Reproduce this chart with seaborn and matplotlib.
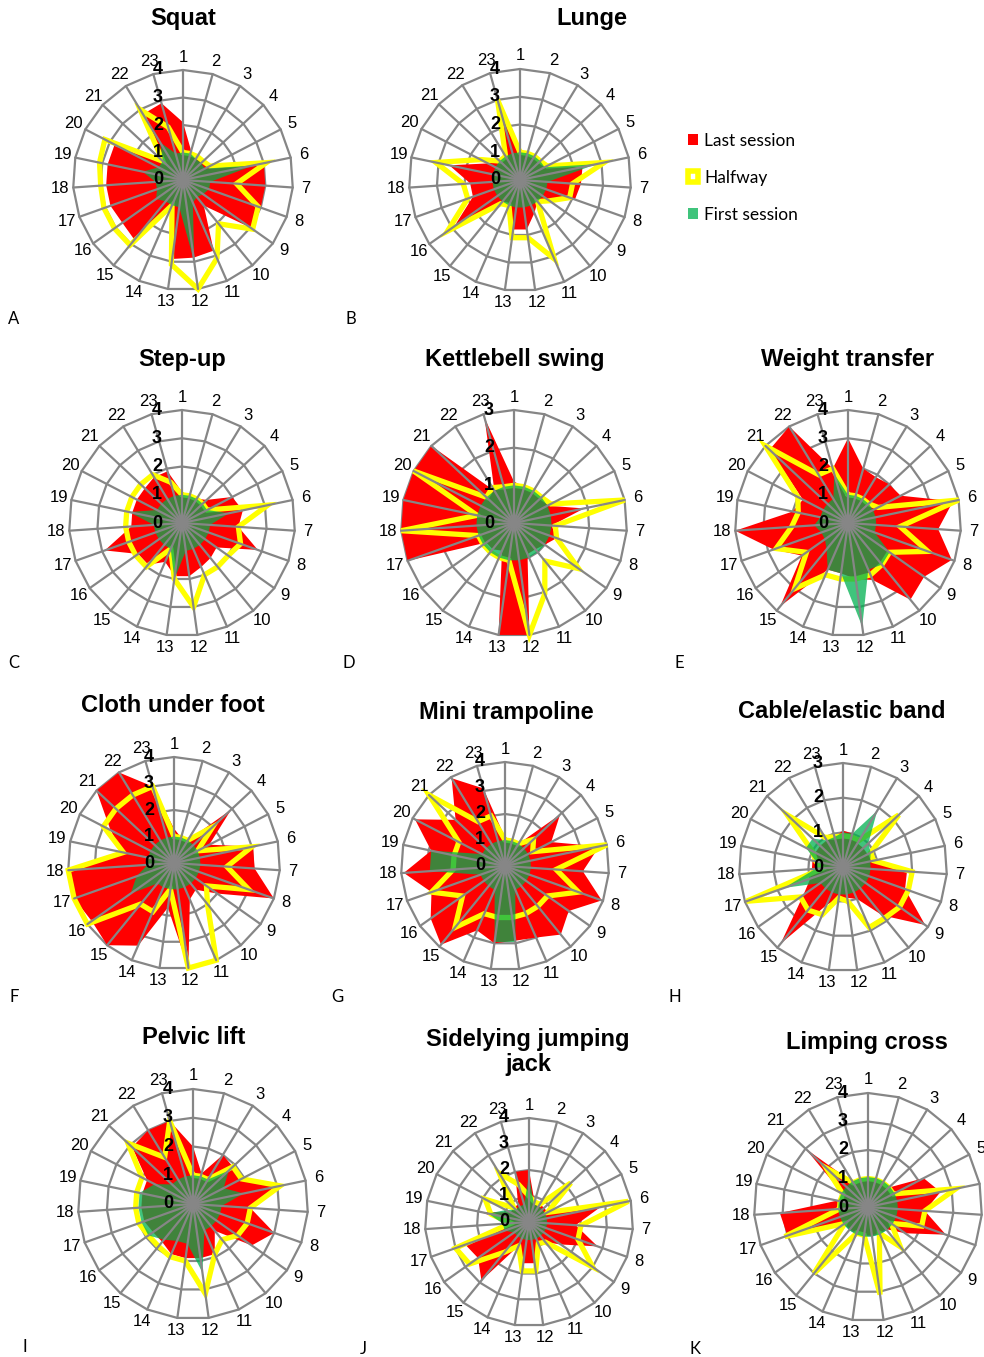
import numpy as np
import matplotlib
matplotlib.use("Agg")
import matplotlib.pyplot as plt
from matplotlib.patches import Patch
from matplotlib.transforms import ScaledTranslation
import seaborn as sns

sns.set_theme(style="white")
plt.rcParams["font.family"] = ["Liberation Sans", "DejaVu Sans"]
plt.rcParams["text.color"] = "black"

spokes = [str(i) for i in range(1, 24)]
series_names = ["Last session", "Halfway", "First session"]

# ---- scores per exercise (23 items, one list per session) ----
squat_last = [2.1, 1.1, 1.0, 1.0, 1.0, 3.0, 3.0, 3.0, 3.0, 1.2, 2.8, 2.85, 2.9, 1.2, 2.8, 2.7, 2.8, 2.8, 2.8, 2.8, 1.1, 2.8, 2.9]
squat_half = [1.0, 1.0, 1.0, 1.0, 1.1, 3.1, 1.95, 2.9, 3.1, 2.05, 3.1, 4.0, 3.1, 1.0, 3.05, 3.05, 3.05, 3.0, 3.1, 3.2, 1.0, 3.0, 2.0]
squat_first = [1.0, 1.0, 0.9, 0.9, 0.9, 2.6, 1.0, 1.0, 0.9, 0.8, 0.9, 3.0, 1.0, 1.0, 1.0, 1.2, 1.0, 1.0, 1.5, 1.0, 1.0, 1.6, 1.0]

lunge_last = [1.1, 1.0, 1.0, 1.0, 1.0, 2.3, 2.2, 2.1, 1.2, 1.0, 1.3, 1.8, 1.8, 1.0, 1.0, 2.9, 1.8, 1.8, 2.6, 1.3, 1.0, 1.0, 2.6]
lunge_half = [1.0, 1.0, 1.0, 1.0, 1.1, 3.1, 1.9, 1.9, 1.3, 1.0, 3.1, 2.1, 2.1, 1.0, 1.1, 3.2, 2.0, 2.05, 3.1, 1.6, 1.0, 1.0, 3.0]
lunge_first = [1.0, 1.0, 1.0, 1.0, 1.0, 2.8, 1.0, 1.0, 1.0, 1.0, 1.0, 1.0, 1.0, 1.0, 1.0, 1.0, 1.0, 1.0, 1.0, 1.0, 1.0, 1.0, 1.0]

stepup_last = [1.1, 1.0, 1.0, 1.2, 2.0, 2.2, 2.0, 2.85, 1.5, 1.6, 1.7, 1.9, 1.9, 1.5, 1.9, 1.9, 2.9, 1.8, 1.8, 1.8, 1.8, 1.9, 1.9]
stepup_half = [1.0, 1.0, 1.0, 1.0, 1.0, 3.1, 2.0, 2.2, 2.0, 2.0, 2.0, 3.0, 2.0, 1.0, 2.0, 2.0, 2.0, 2.0, 2.0, 2.0, 2.0, 2.0, 1.5]
stepup_first = [1.0, 1.0, 1.0, 1.0, 1.0, 1.7, 1.0, 1.0, 1.0, 1.0, 1.0, 1.0, 2.0, 1.0, 1.0, 1.0, 1.0, 1.0, 1.9, 1.0, 1.0, 1.0, 1.0]

kettle_last = [1.1, 1.0, 1.0, 1.0, 1.0, 1.9, 1.0, 1.2, 1.0, 0.9, 0.9, 3.0, 3.0, 0.8, 0.9, 0.9, 3.0, 3.0, 3.0, 3.0, 3.0, 1.0, 2.9]
kettle_half = [1.0, 1.0, 1.0, 1.0, 1.1, 3.0, 1.1, 1.2, 2.1, 1.3, 2.05, 3.0, 1.0, 1.0, 1.0, 1.0, 1.0, 3.0, 1.0, 3.0, 1.0, 1.1, 1.0]
kettle_first = [1.0, 1.0, 1.0, 1.0, 1.0, 1.0, 1.0, 1.0, 1.0, 1.0, 1.0, 1.0, 1.0, 1.0, 1.0, 1.0, 1.0, 1.0, 1.0, 1.0, 1.0, 1.0, 1.0]

weight_last = [3.0, 2.0, 1.9, 2.0, 2.1, 3.8, 3.2, 3.9, 3.3, 3.5, 2.2, 2.0, 1.8, 1.8, 3.8, 2.0, 2.8, 4.0, 2.0, 1.8, 3.8, 4.0, 2.0]
weight_half = [1.0, 1.0, 1.0, 1.0, 1.2, 4.0, 1.85, 3.0, 1.8, 1.9, 2.0, 2.0, 2.0, 2.0, 3.0, 1.8, 2.7, 2.0, 1.8, 2.0, 4.0, 2.0, 2.0]
weight_first = [1.0, 1.0, 1.0, 1.0, 1.0, 1.0, 1.0, 1.0, 1.8, 1.9, 1.8, 3.7, 1.8, 1.8, 1.2, 1.0, 1.0, 1.2, 1.0, 1.0, 1.0, 1.0, 1.8]

cloth_last = [1.3, 1.0, 1.0, 2.95, 1.5, 3.05, 3.05, 4.0, 2.0, 1.3, 1.5, 4.0, 1.7, 3.4, 4.0, 3.8, 4.0, 4.0, 2.0, 2.7, 4.0, 4.0, 3.0]
cloth_half = [1.0, 1.0, 1.0, 2.0, 1.0, 3.0, 2.0, 3.0, 1.5, 2.0, 4.0, 4.0, 1.0, 2.0, 2.0, 4.0, 4.0, 4.0, 1.95, 3.0, 3.0, 3.0, 3.0]
cloth_first = [1.0, 1.0, 1.0, 1.0, 1.0, 1.0, 1.0, 1.0, 1.0, 1.0, 1.0, 1.0, 1.0, 1.0, 1.0, 2.0, 1.5, 1.0, 1.0, 1.0, 1.0, 1.0, 1.0]

tramp_last = [1.1, 1.0, 1.0, 2.9, 2.0, 3.7, 3.0, 3.95, 3.0, 3.4, 3.0, 2.9, 3.0, 2.7, 3.9, 3.5, 3.0, 3.9, 2.9, 3.9, 2.6, 3.95, 3.1]
tramp_half = [1.0, 1.0, 1.0, 1.5, 1.2, 4.0, 1.97, 3.0, 2.0, 2.0, 2.0, 2.0, 2.0, 2.0, 3.05, 2.0, 3.0, 2.0, 2.0, 2.0, 4.0, 2.0, 2.0]
tramp_first = [1.0, 1.0, 1.0, 1.0, 1.0, 1.0, 1.0, 1.0, 1.0, 1.0, 1.0, 2.95, 2.95, 1.0, 1.0, 1.0, 1.0, 2.9, 2.9, 1.0, 1.0, 1.0, 1.0]

cable_last = [1.05, 1.0, 0.8, 0.8, 0.8, 0.9, 1.85, 1.9, 2.9, 1.8, 1.0, 0.9, 0.9, 1.2, 2.85, 1.4, 1.0, 0.9, 0.9, 0.9, 0.9, 0.9, 0.9]
cable_half = [0.9, 0.9, 0.9, 2.2, 0.9, 0.9, 2.0, 2.0, 2.0, 1.9, 1.9, 1.0, 0.9, 1.5, 1.6, 1.5, 2.95, 0.6, 0.8, 1.0, 2.2, 1.0, 0.9]
cable_first = [1.0, 1.0, 1.9, 1.0, 0.9, 0.8, 0.8, 0.8, 0.8, 0.8, 0.8, 0.8, 0.8, 0.8, 0.8, 0.8, 1.8, 0.8, 0.8, 1.2, 1.2, 0.9, 0.9]

pelvic_last = [2.0, 1.1, 2.0, 1.9, 2.0, 2.9, 2.0, 3.0, 2.5, 1.2, 1.9, 1.9, 1.9, 1.9, 1.7, 1.7, 1.8, 1.8, 1.8, 1.8, 2.9, 3.0, 3.0]
pelvic_half = [1.0, 1.0, 1.0, 1.9, 1.9, 3.1, 2.0, 2.0, 1.9, 1.6, 1.9, 3.15, 2.0, 2.0, 1.9, 1.9, 2.0, 2.0, 2.0, 2.0, 3.1, 1.9, 3.0]
pelvic_first = [1.0, 1.0, 1.0, 1.7, 1.2, 1.8, 1.0, 1.0, 1.0, 1.0, 1.0, 2.4, 1.4, 1.4, 1.6, 1.9, 1.9, 1.9, 1.9, 1.5, 1.0, 1.0, 1.0]

jack_last = [2.0, 0.8, 0.8, 0.8, 0.8, 2.8, 1.8, 2.8, 1.5, 1.0, 0.9, 1.6, 1.6, 1.0, 2.9, 2.4, 2.6, 0.7, 1.9, 0.8, 0.8, 0.8, 2.0]
jack_half = [1.0, 0.8, 0.8, 2.2, 0.8, 3.9, 2.0, 2.0, 3.0, 1.0, 0.9, 1.9, 1.9, 1.0, 1.5, 2.8, 3.0, 0.7, 1.5, 1.9, 0.8, 2.2, 1.5]
jack_first = [1.8, 0.7, 0.7, 0.7, 0.7, 0.7, 0.7, 0.7, 0.7, 0.7, 0.7, 0.7, 0.7, 0.7, 0.7, 0.7, 1.0, 1.0, 1.6, 1.0, 0.7, 0.7, 0.7]

limp_last = [1.0, 1.0, 1.0, 1.0, 2.2, 2.6, 2.0, 2.9, 1.6, 1.0, 1.0, 1.0, 1.0, 1.0, 1.0, 1.0, 3.0, 3.1, 1.1, 1.0, 3.0, 1.0, 1.0]
limp_half = [1.0, 1.0, 1.0, 1.0, 1.0, 3.15, 2.0, 2.0, 1.0, 1.8, 1.0, 3.1, 1.0, 1.0, 3.0, 1.0, 3.1, 1.0, 1.0, 1.0, 2.0, 1.0, 1.0]
limp_first = [1.05, 1.05, 1.05, 1.05, 1.05, 1.05, 1.05, 1.05, 1.05, 1.05, 1.05, 1.05, 1.05, 1.05, 1.05, 1.05, 1.05, 1.05, 1.05, 1.05, 1.05, 1.05, 1.05]

# ---- page layout (pixels) ----
W, H = 984, 1357
fig = plt.figure(figsize=(W / 100, H / 100), dpi=100)

RED = "#ff0000"
YELLOW = "#ffff00"
GREEN = "#00b050"
GRID = "#868686"

n = len(spokes)
angles = np.arange(n) * 2 * np.pi / n
ang_closed = np.append(angles, angles[0])


def closed(vals):
    return np.append(np.asarray(vals, float), vals[0])


def radar(cx, cy, rpx, rmax, title, tx, ty, last, half, first, letter, lx, ly):
    ax = fig.add_axes([(cx - rpx) / W, 1 - (cy + rpx) / H, 2 * rpx / W, 2 * rpx / H],
                      projection="polar")
    ax.set_theta_zero_location("N")
    ax.set_theta_direction(-1)
    ax.set_ylim(0, rmax)
    ax.set_axis_off()

    # polygon rings
    for lvl in range(1, rmax + 1):
        ax.plot(ang_closed, np.full(n + 1, lvl), color=GRID, lw=1.6, zorder=1, clip_on=False)

    ax.fill(ang_closed, closed(last), color=RED, lw=0, zorder=2, clip_on=False)
    sns.lineplot(x=ang_closed, y=closed(half), sort=False, estimator=None, ax=ax,
                 color=YELLOW, lw=3.8, zorder=3, clip_on=False, solid_joinstyle="miter")
    ax.fill(ang_closed, closed(first), color=GREEN, alpha=0.75, lw=0, zorder=4, clip_on=False)

    for a in angles:
        ax.plot([a, a], [0, rmax], color=GRID, lw=1.6, zorder=5, clip_on=False)

    ax.set_xlabel("")
    ax.set_ylabel("")

    shift = ax.transData + ScaledTranslation(-25 / 100, 0, fig.dpi_scale_trans)
    for v in range(rmax + 1):
        ax.text(0, v, str(v), transform=shift, ha="center", va="center",
                fontsize=13, fontweight="bold", color="black", zorder=7, clip_on=False)

    for a, s in zip(angles, spokes):
        ax.text(a, rmax * (1 + 13 / rpx), s, ha="center", va="center",
                fontsize=12, color="black", clip_on=False)

    fig.text(tx / W, 1 - ty / H, title, ha="center", va="center", fontsize=17,
             fontweight="bold", linespacing=1.1, color="black")
    fig.text(lx / W, 1 - ly / H, letter, ha="center", va="center", fontsize=12,
             family=["Lato", "DejaVu Sans"], color="black")


radar(183, 180, 110, 4, "Squat", 183, 18, squat_last, squat_half, squat_first, "A", 14, 319)
radar(520, 180, 111, 4, "Lunge", 592, 18, lunge_last, lunge_half, lunge_first, "B", 351, 319)
radar(182, 523, 113, 4, "Step-up", 182, 360, stepup_last, stepup_half, stepup_first, "C", 14, 663)
radar(514, 523, 113, 3, "Kettlebell swing", 515, 360, kettle_last, kettle_half, kettle_first, "D", 349, 663)
radar(848, 523, 113, 4, "Weight transfer", 848, 360, weight_last, weight_half, weight_first, "E", 679, 663)
radar(174, 863, 106, 4, "Cloth under foot", 173, 705, cloth_last, cloth_half, cloth_first, "F", 14, 997)
radar(505, 866, 104, 4, "Mini trampoline", 506, 712, tramp_last, tramp_half, tramp_first, "G", 337, 997)
radar(843, 867, 104, 3, "Cable/elastic band", 842, 712, cable_last, cable_half, cable_first, "H", 675, 997)
radar(193, 1204, 115, 4, "Pelvic lift", 194, 1038, pelvic_last, pelvic_half, pelvic_first, "I", 25, 1347)
radar(529, 1222, 104, 4, "Sidelying jumping\njack", 528, 1052, jack_last, jack_half, jack_first, "J", 363, 1349)
radar(868, 1207, 114, 4, "Limping cross", 867, 1042, limp_last, limp_half, limp_first, "K", 695, 1349)

handles = [
    Patch(facecolor=RED, edgecolor=RED, lw=0),
    Patch(facecolor="white", edgecolor=YELLOW, lw=4),
    Patch(facecolor=GREEN, alpha=0.75, edgecolor="none", lw=0),
]
fig.legend(handles, series_names, loc="upper left", bbox_to_anchor=(688 / W, 1 - 133 / H),
           frameon=False, handlelength=0.6, handleheight=0.6, handletextpad=0.35,
           labelspacing=1.2, borderaxespad=0, borderpad=0,
           prop={"family": ["Lato", "DejaVu Sans"], "size": 12.5})

fig.savefig("out.png", dpi=100, facecolor="white")
